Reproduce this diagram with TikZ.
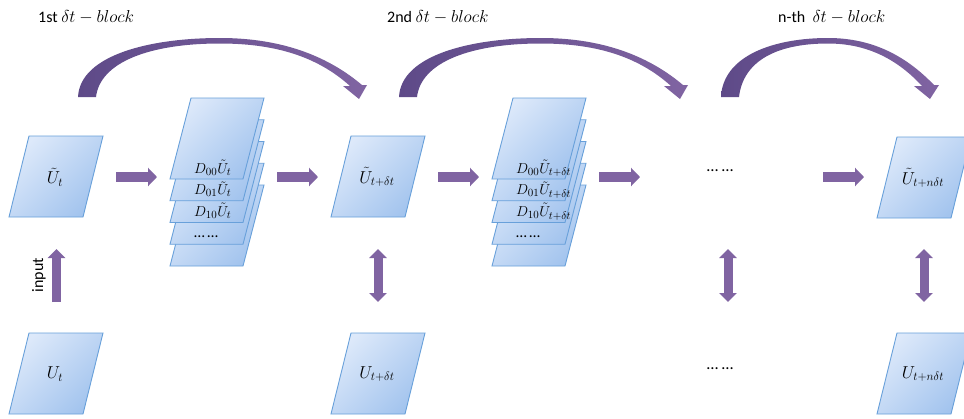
\documentclass[tikz,border=0pt]{standalone}
\usepackage{fontspec}
\setmainfont{Carlito}
\usetikzlibrary{arrows.meta,calc}
\definecolor{purp}{RGB}{128,100,162}
\definecolor{purpdark}{RGB}{94,74,136}
\definecolor{boxedge}{RGB}{104,160,218}
\definecolor{boxlight}{RGB}{221,233,250}
\definecolor{boxdark}{RGB}{163,196,238}
\newcommand\mypara[2]{\path[boxfill] (#1,#2) -- ++(74,0) -- ++(-20,81) -- ++(-74,0) -- cycle;}
\newcommand\mysheet[2]{\path[boxfill] ({191+#1},{98+21.75*#2}) -- ++(73,0) -- ++(-21,81) -- ++(-73,0) -- cycle;}
\begin{document}
\begin{tikzpicture}[x=1pt,y=-1pt,
  boxfill/.style={draw=boxedge,line width=0.9pt,top color=boxlight,bottom color=boxdark,shading angle=45},
  lbl/.style={font=\fontsize{16.5}{18}\selectfont,inner sep=0pt},
  slbl/.style={font=\fontsize{15.5}{17}\selectfont,inner sep=0pt,anchor=base west},
  ttl/.style={font=\fontsize{16}{18}\selectfont,inner sep=0pt},
  harrow/.style={draw=purp,line width=10pt,-{Triangle[width=18pt,length=9pt]}},
  varrow/.style={draw=purp,line width=9pt,-{Triangle[width=17pt,length=9pt]}},
  dvarrow/.style={draw=purp,line width=9pt,{Triangle[width=17pt,length=9pt]}-{Triangle[width=17pt,length=9pt]}},
  curvearrow/.style={left color=purpdark,right color=purp,draw=none}]
\useasboundingbox (0,0) rectangle (964,418);
\clip (0,0) rectangle (964,418);
\fill[white] (0,0) rectangle (964,418);

% titles
\node[ttl,anchor=west] (t1) at (38,17) {1st $\delta t - block$};
\node[ttl,anchor=west] (t2) at (387,17) {2nd $\delta t - block$};
\node[ttl,anchor=west] (t3) at (778,17) {n-th\ \ $\delta t - block$};

% curved arrows
\shade[curvearrow] (78,97) .. controls (80,55) and (150,38) .. (220,38)
  .. controls (285,38) and (330,58) .. (362,85) -- (367,85) -- (359,99) -- (343,86) -- (350,86)
  .. controls (320,59) and (280,43.5) .. (220,43.5) .. controls (150,43.5) and (100,62) .. (96,97) -- cycle;
\begin{scope}[xshift=321pt]
\shade[curvearrow] (78,97) .. controls (80,55) and (150,38) .. (220,38)
  .. controls (285,38) and (330,58) .. (362,85) -- (367,85) -- (359,99) -- (343,86) -- (350,86)
  .. controls (320,59) and (280,43.5) .. (220,43.5) .. controls (150,43.5) and (100,62) .. (96,97) -- cycle;
\end{scope}
\shade[curvearrow] (721,97) .. controls (723,55) and (775,38) .. (828,38)
  .. controls (875,38) and (908,58) .. (934,85) -- (939,85) -- (930,99) -- (914,86) -- (922,86)
  .. controls (898,60) and (868,43.5) .. (828,43.5) .. controls (775,43.5) and (743,62) .. (739,97) -- cycle;

% single boxes
\mypara{29}{136}
\mypara{29}{333}
\mypara{351}{136}
\mypara{351}{333}
\mypara{897}{137}
\mypara{897}{333}
\node[lbl] (ut) at (55,177) {$\tilde{U}_t$};
\node[lbl] (Ut) at (55,374) {$U_t$};
\node[lbl] (ut1) at (377,177) {$\tilde{U}_{t+\delta t}$};
\node[lbl] (Ut1) at (377,374) {$U_{t+\delta t}$};
\node[lbl] (utn) at (923,178) {$\tilde{U}_{t+n\delta t}$};
\node[lbl] (Utn) at (923,374) {$U_{t+n\delta t}$};

% stacks
\foreach \k in {4,3,2,1,0} {\mysheet{0}{\k}}
\foreach \k in {4,3,2,1,0} {\mysheet{322}{\k}}
\node[slbl] (d00a) at (194,173) {$D_{00}\tilde{U}_t$};
\node[slbl] (d01a) at (194,194.75) {$D_{01}\tilde{U}_t$};
\node[slbl] (d10a) at (194,216.5) {$D_{10}\tilde{U}_t$};
\node[slbl] (dda) at (194,237) {\ldots\,\ldots};
\node[slbl] (d00b) at (516,173) {$D_{00}\tilde{U}_{t+\delta t}$};
\node[slbl] (d01b) at (516,194.75) {$D_{01}\tilde{U}_{t+\delta t}$};
\node[slbl] (d10b) at (516,216.5) {$D_{10}\tilde{U}_{t+\delta t}$};
\node[slbl] (ddb) at (516,237) {\ldots\,\ldots};

% middle dots
\node[lbl] (dots1) at (720,171) {\ldots\ \ldots};
\node[lbl] (dots2) at (720,369) {\ldots\ \ldots};

% horizontal arrows
\coordinate (a1s) at (116,177); \coordinate (a1e) at (157,177);
\coordinate (a2s) at (277,177); \coordinate (a2e) at (318,177);
\coordinate (a3s) at (438,177); \coordinate (a3e) at (479,177);
\coordinate (a4s) at (599,177); \coordinate (a4e) at (640,177);
\coordinate (a5s) at (823,177); \coordinate (a5e) at (864,177);
\draw[harrow] (a1s) -- (a1e);
\draw[harrow] (a2s) -- (a2e);
\draw[harrow] (a3s) -- (a3e);
\draw[harrow] (a4s) -- (a4e);
\draw[harrow] (a5s) -- (a5e);

% vertical arrows
\coordinate (v0s) at (56.5,302); \coordinate (v0e) at (56.5,249);
\draw[varrow] (v0s) -- (v0e);
\node[ttl,rotate=90] (inp) at (39,275) {input};
\coordinate (v1s) at (378,302); \coordinate (v1e) at (378,249);
\coordinate (v2s) at (728,302); \coordinate (v2e) at (728,249);
\coordinate (v3s) at (924,302); \coordinate (v3e) at (924,249);
\draw[dvarrow] (v1s) -- (v1e);
\draw[dvarrow] (v2s) -- (v2e);
\draw[dvarrow] (v3s) -- (v3e);
\end{tikzpicture}
\end{document}
